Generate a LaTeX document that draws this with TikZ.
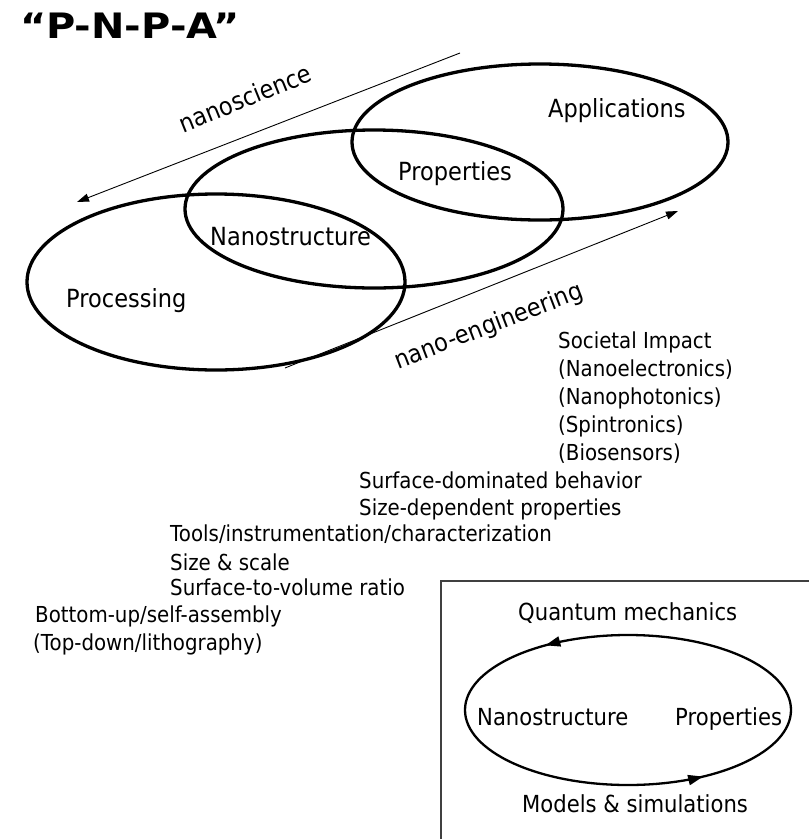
\documentclass[tikz,border=0pt]{standalone}
\usepackage{fontspec}
\setmainfont{DejaVu Sans}[FakeStretch=0.9]
\newfontfamily\titlefont{DejaVu Sans}[FakeStretch=1.14]
\usetikzlibrary{arrows.meta,positioning,decorations.markings}

\tikzset{
  ringline/.style={line width=3.3pt},
  flowarrow/.style={line width=0.9pt, -{Triangle[length=12pt,width=8pt]}},
  elabel/.style={font=\fontsize{25}{30}\selectfont, anchor=base west, inner sep=0pt},
  listtext/.style={font=\fontsize{22}{28}\selectfont, anchor=base west, inner sep=0pt},
  boxtext/.style={font=\fontsize{23.5}{28}\selectfont, anchor=base west, inner sep=0pt},
  slanted/.style={font=\fontsize{25}{30}\selectfont, inner sep=0pt}
}

\begin{document}
\begin{tikzpicture}[x=1pt, y=-1pt]
  \useasboundingbox (0,0) rectangle (809,839);

  %% Title
  \node[font=\titlefont\bfseries\fontsize{35}{40}\selectfont,
        anchor=base west, inner sep=0pt] (title) at (20,38) {“P-N-P-A”};

  %% The three overlapping ellipses
  \draw[ringline] (216,282) ellipse [x radius=189pt, y radius=88pt];
  \draw[ringline] (374,209) ellipse [x radius=189pt, y radius=79pt];
  \draw[ringline] (540,142) ellipse [x radius=188pt, y radius=78pt];

  \node[elabel] (proc) at (66,307)  {Processing};
  \node[elabel] (nano) at (210,245) {Nanostructure};
  \node[elabel] (prop) at (398,180) {Properties};
  \node[elabel] (appl) at (548,117) {Applications};

  %% Direction arrows
  \coordinate (sciA) at (460,53);
  \coordinate (sciB) at (77,202);
  \coordinate (engA) at (285,368);
  \coordinate (engB) at (678,211);
  \draw[flowarrow] (sciA) -- (sciB);
  \draw[flowarrow] (engA) -- (engB);

  \node[slanted, rotate=22] (sci) at (245,98)  {nanoscience};
  \node[slanted, rotate=21] (eng) at (489,327) {nano-engineering};

  %% Lists of topics
  \node[listtext, align=left, anchor=north west,
        font=\fontsize{22}{28}\selectfont] (soc) at (558,332)
    {Societal Impact\\(Nanoelectronics)\\(Nanophotonics)\\(Spintronics)\\(Biosensors)};

  \node[listtext] (surfdom) at (359,488) {Surface-dominated behavior};
  \node[listtext] (sizedep) at (359,515) {Size-dependent properties};
  \node[listtext] (tools)   at (170,541) {Tools/instrumentation/characterization};
  \node[listtext] (scale)   at (170,570) {Size \& scale};
  \node[listtext] (ratio)   at (170,595) {Surface-to-volume ratio};
  \node[listtext] (bottom)  at (35,622)  {Bottom-up/self-assembly};
  \node[listtext] (topdown) at (33,650)  {(Top-down/lithography)};

  %% Inset box with the modelling loop
  \coordinate (boxbl) at (441,839);
  \coordinate (boxtl) at (441,581);
  \coordinate (boxtr) at (809,581);
  \draw[line width=1.6pt, black!75] (boxbl) -- (boxtl) -- (boxtr);

  \draw[line width=2.3pt, postaction={decorate},
        decoration={markings,
          mark=at position 0.358 with {\arrow{Triangle[length=15pt,width=10pt]}},
          mark=at position 0.848 with {\arrow{Triangle[length=15pt,width=10pt]}}}]
    (628,710) ellipse [x radius=163pt, y radius=75pt];

  \node[boxtext] (qm)     at (518,620) {Quantum mechanics};
  \node[boxtext] (bnano)  at (477,725) {Nanostructure};
  \node[boxtext] (bprop)  at (675,725) {Properties};
  \node[boxtext] (models) at (522,812) {Models \& simulations};

\end{tikzpicture}
\end{document}
